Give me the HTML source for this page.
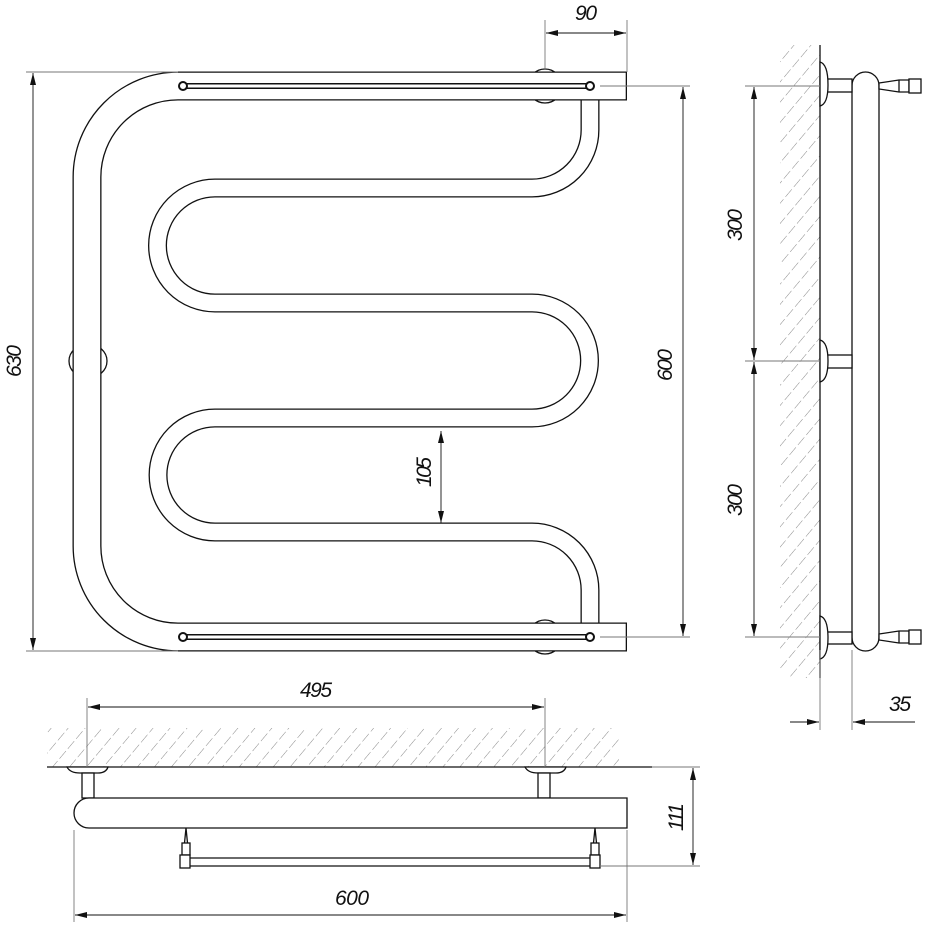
<!DOCTYPE html>
<html><head><meta charset="utf-8"><style>
html,body{margin:0;padding:0;background:#fff}
svg{display:block}
text{font-family:"Liberation Sans",sans-serif;font-style:italic;font-size:21px;fill:#111}
</style></head><body>
<svg width="928" height="929" viewBox="0 0 928 929" xmlns="http://www.w3.org/2000/svg">
<defs>
<pattern id="h" width="13" height="13" patternUnits="userSpaceOnUse" patternTransform="rotate(40)">
<line x1="0" y1="0" x2="0" y2="13" stroke="#888" stroke-width="1" stroke-dasharray="10 3"/>
</pattern>
<marker id="a" viewBox="0 0 12 6" refX="12" refY="3" markerWidth="12" markerHeight="6" orient="auto-start-reverse" markerUnits="userSpaceOnUse">
<path d="M0,0 L12,3 L0,6 Z" fill="#111"/>
</marker>
</defs>

<rect x="780" y="45" width="40" height="633" fill="url(#h)"/>
<rect x="47" y="728" width="572" height="39" fill="url(#h)"/>

<g fill="#fff" stroke="#111" stroke-width="1.3">
<circle cx="545" cy="86" r="17"/>
<circle cx="545" cy="637" r="17"/>
<ellipse cx="88" cy="361" rx="19" ry="17"/>
</g>
<path d="M590,98 V130 A58,58 0 0 1 532,188 H215 A57.5,57.5 0 0 0 215,303 H532 A57.5,57.5 0 0 1 532,418 H215 A57,57 0 0 0 215,532 H532 A58,58 0 0 1 590,590 V624" fill="none" stroke="#111" stroke-width="19"/>
<path d="M590,96 V130 A58,58 0 0 1 532,188 H215 A57.5,57.5 0 0 0 215,303 H532 A57.5,57.5 0 0 1 532,418 H215 A57,57 0 0 0 215,532 H532 A58,58 0 0 1 590,590 V626" fill="none" stroke="#fff" stroke-width="16.4"/>
<path d="M627,86 H178 A91,91 0 0 0 87,177 V546 A91,91 0 0 0 178,637 H627" fill="none" stroke="#111" stroke-width="29"/>
<path d="M625.7,86 H178 A91,91 0 0 0 87,177 V546 A91,91 0 0 0 178,637 H625.7" fill="none" stroke="#fff" stroke-width="26.4"/>
<g>
<line x1="183" y1="86" x2="590" y2="86" stroke="#111" stroke-width="6"/>
<line x1="183" y1="86" x2="590" y2="86" stroke="#fff" stroke-width="3"/>
<circle cx="183" cy="86" r="4" fill="#fff" stroke="#111" stroke-width="2"/>
<circle cx="590" cy="86" r="4" fill="#fff" stroke="#111" stroke-width="2"/>
<line x1="183" y1="637" x2="590" y2="637" stroke="#111" stroke-width="6"/>
<line x1="183" y1="637" x2="590" y2="637" stroke="#fff" stroke-width="3"/>
<circle cx="183" cy="637" r="4" fill="#fff" stroke="#111" stroke-width="2"/>
<circle cx="590" cy="637" r="4" fill="#fff" stroke="#111" stroke-width="2"/>
</g>

<g stroke="#777" stroke-width="0.9" fill="none">
<line x1="26" y1="72" x2="178" y2="72"/>
<line x1="26" y1="651" x2="178" y2="651"/>
<line x1="600" y1="86" x2="690" y2="86"/>
<line x1="600" y1="637" x2="690" y2="637"/>
<line x1="545" y1="20" x2="545" y2="70"/>
<line x1="627" y1="20" x2="627" y2="72"/>
</g>
<g stroke="#111" stroke-width="0.9">
<line x1="33" y1="73" x2="33" y2="650" marker-start="url(#a)" marker-end="url(#a)"/>
<line x1="683" y1="87" x2="683" y2="636" marker-start="url(#a)" marker-end="url(#a)"/>
<line x1="546" y1="33" x2="626" y2="33" marker-start="url(#a)" marker-end="url(#a)"/>
<line x1="441" y1="431" x2="441" y2="523" marker-start="url(#a)" marker-end="url(#a)"/>
</g>
<text transform="translate(21,361) rotate(-90)" text-anchor="middle" textLength="32">630</text>
<text transform="translate(672,365) rotate(-90)" text-anchor="middle" textLength="32">600</text>
<text transform="translate(431,472) rotate(-90)" text-anchor="middle" textLength="30">105</text>
<text x="586" y="20" text-anchor="middle" textLength="22">90</text>

<line x1="820" y1="45" x2="820" y2="678" stroke="#111" stroke-width="1.3"/>
<g fill="#fff" stroke="#111" stroke-width="1.3">
<rect x="852" y="72" width="27" height="579" rx="13.5" ry="13.5"/>
<rect x="824" y="79" width="28" height="13"/>
<rect x="824" y="355" width="28" height="13"/>
<rect x="824" y="632" width="28" height="12"/>
<path d="M820,62 Q828,64 828,85 Q828,104 820,106 Z"/>
<path d="M820,340 Q828,342 828,361 Q828,380 820,382 Z"/>
<path d="M820,616 Q828,618 828,638 Q828,657 820,659 Z"/>
<path d="M879,83 L899,80 L909,80 L909,92 L899,92 L879,89 Z"/>
<rect x="909" y="79" width="12" height="14"/>
<line x1="899" y1="80" x2="899" y2="92"/>
<path d="M879,634 L899,631 L909,631 L909,643 L899,643 L879,640 Z"/>
<rect x="909" y="630" width="12" height="14"/>
<line x1="899" y1="631" x2="899" y2="643"/>
</g>
<g stroke="#777" stroke-width="0.9">
<line x1="745" y1="86" x2="820" y2="86"/>
<line x1="745" y1="361" x2="820" y2="361"/>
<line x1="745" y1="637" x2="820" y2="637"/>
<line x1="820" y1="650" x2="820" y2="730"/>
<line x1="852" y1="650" x2="852" y2="730"/>
</g>
<g stroke="#111" stroke-width="0.9">
<line x1="754" y1="87" x2="754" y2="360" marker-start="url(#a)" marker-end="url(#a)"/>
<line x1="754" y1="362" x2="754" y2="636" marker-start="url(#a)" marker-end="url(#a)"/>
<line x1="790" y1="722" x2="819" y2="722" marker-end="url(#a)"/>
<line x1="853" y1="722" x2="915" y2="722" marker-start="url(#a)"/>
</g>
<text transform="translate(742,225) rotate(-90)" text-anchor="middle" textLength="32">300</text>
<text transform="translate(742,500) rotate(-90)" text-anchor="middle" textLength="32">300</text>
<text x="900" y="711" text-anchor="middle" textLength="22">35</text>

<line x1="47" y1="767" x2="652" y2="767" stroke="#111" stroke-width="1.3"/>
<g fill="#fff" stroke="#111" stroke-width="1.3">
<path d="M67,767 Q70,773 80,773 L98,773 Q106,773 108,767 Z"/>
<path d="M525,767 Q528,773 538,773 L556,773 Q564,773 566,767 Z"/>
<rect x="82" y="773" width="12" height="25"/>
<rect x="538" y="773" width="12" height="25"/>
<rect x="182" y="858" width="416" height="8" rx="4"/>
<path d="M186,828 L184,848 L188,848 Z"/>
<path d="M595,828 L593,848 L597,848 Z"/>
<rect x="182" y="843" width="8" height="12"/>
<rect x="591" y="843" width="8" height="12"/>
<rect x="180" y="855" width="10" height="13"/>
<rect x="590" y="855" width="10" height="13"/>
<path d="M627,798 H89 A15,15 0 0 0 89,828 H627 Z"/>
</g>
<g stroke="#777" stroke-width="0.9">
<line x1="87" y1="698" x2="87" y2="767"/>
<line x1="545" y1="698" x2="545" y2="767"/>
<line x1="74" y1="830" x2="74" y2="922"/>
<line x1="627" y1="830" x2="627" y2="922"/>
<line x1="652" y1="767" x2="700" y2="767"/>
<line x1="600" y1="866" x2="700" y2="866"/>
</g>
<g stroke="#111" stroke-width="0.9">
<line x1="88" y1="707" x2="544" y2="707" marker-start="url(#a)" marker-end="url(#a)"/>
<line x1="75" y1="915" x2="626" y2="915" marker-start="url(#a)" marker-end="url(#a)"/>
<line x1="693" y1="768" x2="693" y2="865" marker-start="url(#a)" marker-end="url(#a)"/>
</g>
<text x="316" y="697" text-anchor="middle" textLength="32">495</text>
<text x="352" y="905" text-anchor="middle" textLength="34">600</text>
<text transform="translate(683,817) rotate(-90)" text-anchor="middle" textLength="28">111</text>
</svg>
</body></html>
